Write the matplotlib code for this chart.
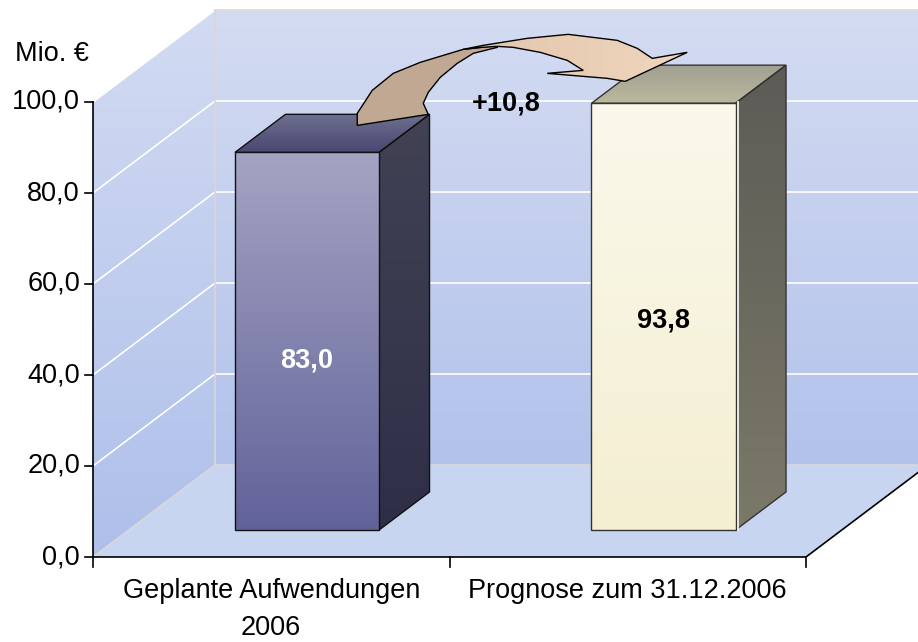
import numpy as np
import matplotlib
matplotlib.use("Agg")
import matplotlib.pyplot as plt
from matplotlib.patches import Polygon
from matplotlib.colors import to_rgb

# ---------------- data ----------------
categories = ["Geplante Aufwendungen\n2006", "Prognose zum 31.12.2006"]
values = [83.0, 93.8]
yticks = [0, 20, 40, 60, 80, 100]
unit_label = "Mio. €"
label_frac = [0.45, 0.49]   # where the value label sits inside the bar (fraction of height)

# ---------------- pseudo-3D geometry ----------------
W, H = 918, 642
X0, Y0 = 93.0, 557.0          # origin of the front plane (px)
CW = 356.5                    # category width (px)
VS = 4.55                     # px per unit
DX, DY = 122.0, 92.0          # depth offset of back wall
BAR_HALF = 0.202              # half bar width in category units
D_FRONT, D_BACK = 0.293, 0.707

def proj(xc, v, d):
    return (X0 + xc * CW + d * DX, Y0 - v * VS - d * DY)

plt.rcParams['font.family'] = ['Liberation Sans', 'DejaVu Sans']
fig = plt.figure(figsize=(W / 100, H / 100), dpi=100)
ax = fig.add_axes([0, 0, 1, 1])
ax.set_xlim(0, W)
ax.set_ylim(H, 0)
ax.axis('off')

def grad_poly(verts, c1, c2, z, direction='v', edge=None, lw=1.0):
    verts = np.asarray(verts)
    x0, y0 = verts.min(axis=0)
    x1, y1 = verts.max(axis=0)
    c1, c2 = np.array(to_rgb(c1)), np.array(to_rgb(c2))
    t = np.linspace(0, 1, 256)
    if direction == 'v':
        img = (c1[None, :] * (1 - t[:, None]) + c2[None, :] * t[:, None])[:, None, :]
    else:
        img = (c1[None, :] * (1 - t[:, None]) + c2[None, :] * t[:, None])[None, :, :]
    im = ax.imshow(img, extent=(x0, x1, y1, y0), aspect='auto', zorder=z,
                   interpolation='bilinear')
    p = Polygon(verts, closed=True, facecolor='none', edgecolor='none', zorder=z)
    ax.add_patch(p)
    im.set_clip_path(p)
    if edge is not None:
        ax.add_patch(Polygon(verts, closed=True, facecolor='none', edgecolor=edge,
                             lw=lw, zorder=z + 0.1, joinstyle='miter'))

n = len(categories)
vmax = yticks[-1]

# back wall
back = [proj(0, 0, 1), proj(n, 0, 1), proj(n, vmax, 1), proj(0, vmax, 1)]
grad_poly(back, '#D4DCF2', '#B2C2EB', 1)
# side wall
side = [proj(0, 0, 0), proj(0, 0, 1), proj(0, vmax, 1), proj(0, vmax, 0)]
grad_poly(side, '#D2DBF2', '#AEBFEA', 1)
# floor
floor = [proj(0, 0, 0), proj(n, 0, 0), proj(n, 0, 1), proj(0, 0, 1)]
ax.add_patch(Polygon(floor, closed=True, facecolor='#C7D5F1', edgecolor='none', zorder=1.5))

# gridlines
for v in yticks[1:]:
    pts = np.array([proj(0, v, 0), proj(0, v, 1), proj(n, v, 1)])
    ax.plot(pts[:, 0], pts[:, 1], color='white', lw=1.2, zorder=2)
# wall border lines (light gray)
for seg in ([proj(0, 0, 1), proj(0, vmax, 1)], [proj(0, vmax, 1), proj(n, vmax, 1)],
            [proj(0, 0, 1), proj(n, 0, 1)], [proj(0, 0, 0), proj(0, 0, 1)]):
    s = np.array(seg)
    ax.plot(s[:, 0], s[:, 1], color='#D8D8D8', lw=1.2, zorder=2.1)
# floor front and right edges (black)
fe = np.array([proj(0, 0, 0), proj(n, 0, 0), proj(n, 0, 1)])
ax.plot(fe[:, 0], fe[:, 1], color='black', lw=1.2, zorder=2.2)
# y axis
ya = np.array([proj(0, 0, 0), proj(0, vmax, 0)])
ax.plot(ya[:, 0], ya[:, 1], color='black', lw=1.2, zorder=2.2)
for v in yticks:
    x, y = proj(0, v, 0)
    ax.plot([x - 8, x], [y, y], color='black', lw=1.2, zorder=2.2)
    ax.text(x - 13, y, f"{v:.1f}".replace('.', ','), ha='right', va='center',
            fontsize=19.5, color='black')
for i in range(n + 1):
    x, y = proj(i, 0, 0)
    ax.plot([x, x], [y, y + 10], color='black', lw=1.2, zorder=2.2)
ax.text(15, 54, unit_label, ha='left', va='center', fontsize=19.5)
for i, c in enumerate(categories):
    x, y = proj(i + 0.5, 0, 0)
    ax.text(x, y + 21, c, ha='center', va='top', fontsize=19.5, linespacing=1.55)

# bars
bar_styles = [
    dict(front=('#A4A4C3', '#62629A'), side=('#424254', '#2E2E48'),
         top=('#707090', '#484872'), edge='#111111', txt='white'),
    dict(front=('#FAF8EB', '#F4EFD2'), side=('#5C5B56', '#7B7968'),
         top=('#A09F92', '#BAB89B'), edge='#333333', txt='black'),
]
for i, v in enumerate(values):
    st = bar_styles[i]
    xl, xr = i + 0.5 - BAR_HALF, i + 0.5 + BAR_HALF
    front = [proj(xl, 0, D_FRONT), proj(xr, 0, D_FRONT), proj(xr, v, D_FRONT), proj(xl, v, D_FRONT)]
    sidef = [proj(xr, 0, D_FRONT), proj(xr, 0, D_BACK), proj(xr, v, D_BACK), proj(xr, v, D_FRONT)]
    topf = [proj(xl, v, D_FRONT), proj(xr, v, D_FRONT), proj(xr, v, D_BACK), proj(xl, v, D_BACK)]
    grad_poly(sidef, st['side'][0], st['side'][1], 5, edge=st['edge'])
    grad_poly(topf, st['top'][0], st['top'][1], 5, edge=st['edge'])
    grad_poly(front, st['front'][0], st['front'][1], 5.5, edge=st['edge'])
    if i == 1:
        a, b = proj(xr, 0, D_FRONT), proj(xr, v, D_FRONT)
        ax.plot([a[0] + 2, b[0] + 2], [a[1], b[1] - 1], color='#F5F3E6', lw=1.3, zorder=5.7)
    tx, ty = proj(i + 0.5, v * label_frac[i], D_FRONT)
    ax.text(tx, ty, f"{v:.1f}".replace('.', ','), ha='center', va='center',
            fontsize=19.5, fontweight='bold', color=st['txt'], zorder=8)

# difference arrow (decoration, anchored to top of first bar)
ax0, ay0 = proj(0.5, values[0], 0.5)
dark = [(25, -8), (25, -20), (40, -43), (61, -60), (88, -71), (131, -84), (165, -88),
        (165, -86), (141, -80), (125, -70), (108, -56), (96, -41), (91, -30), (96, -19)]
light = [(131, -84), (151, -88), (195, -95), (236, -99), (285, -93), (305, -85),
         (320, -75), (355, -81), (293, -52), (275, -55), (215, -60), (251, -63),
         (235, -73), (208, -81), (181, -86), (165, -87), (150, -86)]
ax.add_patch(Polygon([(ax0 + dx, ay0 + dy) for dx, dy in dark], closed=True,
                     facecolor='#C0A893', edgecolor='black', lw=1.0, zorder=6))
grad_poly([(ax0 + dx, ay0 + dy) for dx, dy in light], '#E2C6AD', '#EFD6BD', 6.2,
          direction='h', edge='black', lw=1.0)

diff = values[1] - values[0]
dx_, dy_ = proj(1.0, values[1], D_FRONT)
ax.text(dx_ + 21, dy_, f"+{diff:.1f}".replace('.', ','), ha='center', va='center',
        fontsize=19.5, fontweight='bold', color='black', zorder=8)

fig.savefig("out.png", dpi=100)
